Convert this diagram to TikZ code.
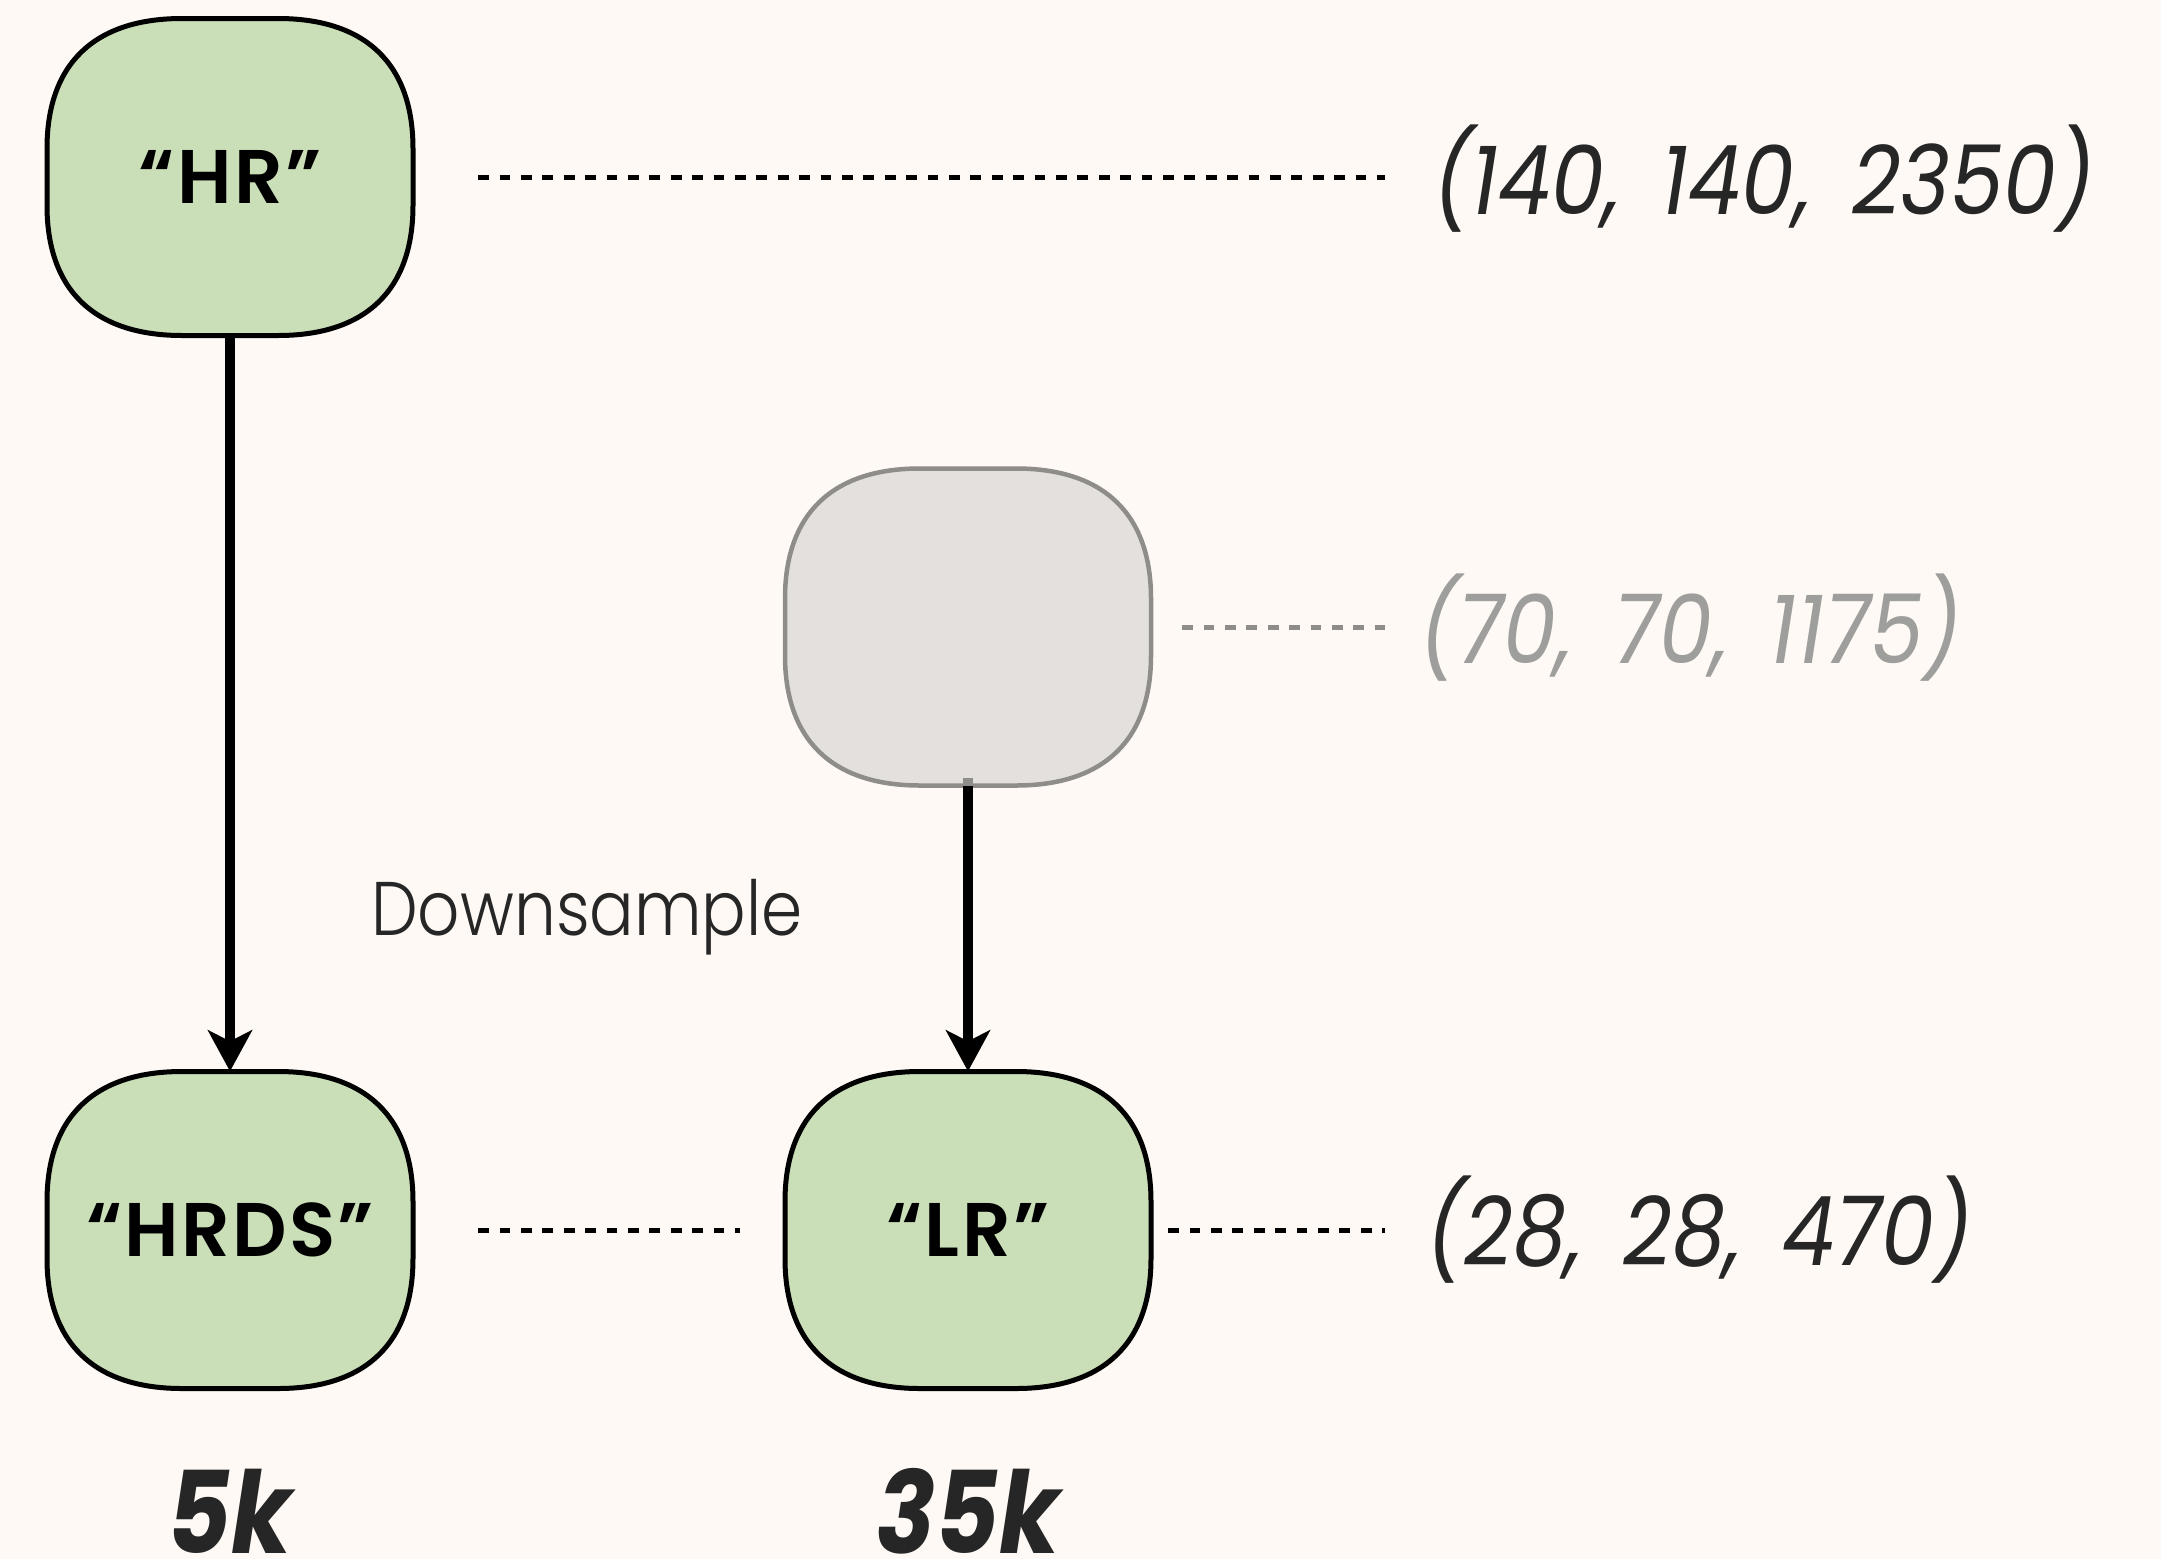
\documentclass[tikz,border=0pt]{standalone}
\usepackage{fontspec}
\setmainfont{Poppins}
\newfontfamily\labelfont{Poppins SemiBold}[LetterSpace=3]
\newfontfamily\notefont{Poppins Light}[FakeStretch=0.87]
\newfontfamily\dimfont{Poppins Italic}[FakeStretch=0.88, WordSpace=1.6]
\newfontfamily\countfont{Poppins Bold Italic}[FakeStretch=0.86]
\usetikzlibrary{arrows.meta}

\definecolor{paper}{HTML}{FEF9F4}
\definecolor{leaf}{HTML}{CADFB8}
\definecolor{fog}{HTML}{E3E0DD}
\definecolor{fogline}{HTML}{8F8D89}
\definecolor{ink}{HTML}{262626}
\definecolor{inkgray}{HTML}{9E9E9C}

\tikzset{
  % rounded "squircle" outline, 366 x 317 units
  blob/.pic={
    \path[pic actions]
      (-183,-28.5) .. controls (-183,-113) and (-135.75,-158.5) .. (-48,-158.5)
      -- (48,-158.5) .. controls (135.75,-158.5) and (183,-113) .. (183,-28.5)
      -- (183,28.5) .. controls (183,113) and (135.75,158.5) .. (48,158.5)
      -- (-48,158.5) .. controls (-135.75,158.5) and (-183,113) .. (-183,28.5)
      -- cycle;
  },
  greenblob/.style={fill=leaf, draw=black, line width=5pt},
  grayblob/.style={fill=fog, draw=fogline, line width=4.5pt},
  boxnode/.style={minimum width=366pt, minimum height=317pt, inner sep=0pt,
    font=\labelfont\fontsize{76}{80}\selectfont, text=black},
  dimtext/.style={anchor=base west, inner sep=0pt,
    font=\dimfont\fontsize{96}{110}\selectfont, text=ink},
  counttext/.style={anchor=base, inner sep=0pt,
    font=\countfont\fontsize{114}{120}\selectfont, text=ink},
  dimline/.style={line width=5pt, dash pattern=on 10.7pt off 10.7pt},
  flow/.style={line width=10pt, -{Stealth[length=41pt, width=44pt, inset=11pt]}},
}

\begin{document}
\begin{tikzpicture}[x=1pt, y=-1pt]
  \fill[paper] (0,0) rectangle (2161,1559);
  \useasboundingbox (0,0) rectangle (2161,1559);

  % boxes
  \pic[greenblob] at (230,177) {blob};
  \pic[grayblob] at (968,627) {blob};
  \pic[greenblob] at (230,1230) {blob};
  \pic[greenblob] at (968,1230) {blob};

  \node[boxnode] (hr) at (230,177) {“HR”};
  \node[boxnode] (ds) at (968,627) {};
  \node[boxnode] (hrds) at (230,1230) {“HRDS”};
  \node[boxnode] (lr) at (968,1230) {“LR”};

  % tensor shapes
  \node[dimtext] (hrdim) at (1433,214) {(140, 140, 2350)};
  \node[dimtext, text=inkgray] (dsdim) at (1419,663) {(70, 70, 1175)};
  \node[dimtext] (lrdim) at (1426,1265) {(28, 28, 470)};

  % dotted guides
  \draw[dimline, black] ([xshift=65pt]hr.east) -- ([xshift=-48pt]hrdim.west |- hr.east);
  \draw[dimline, fogline] ([xshift=31pt]ds.east) -- ([xshift=-34pt]dsdim.west |- ds.east);
  \draw[dimline, black] ([xshift=65pt]hrds.east) -- ([xshift=-45pt]lr.west);
  \draw[dimline, black] ([xshift=17pt]lr.east) -- ([xshift=-41pt]lrdim.west |- lr.east);

  % arrows
  \draw[flow] (hr.south) -- (hrds.north);
  \draw[flow] (ds.south) -- (lr.north);
  \draw[fogline, line width=10pt] (ds.south) -- ([yshift=8pt]ds.south);

  \node[anchor=base, inner sep=0pt, font=\notefont\fontsize{76}{80}\selectfont, text=ink]
    (down) at (587,935) {Downsample};

  % sample counts
  \node[counttext] (c5) at (230,1553) {5k};
  \node[counttext] (c35) at (968,1553) {35k};
\end{tikzpicture}
\end{document}
